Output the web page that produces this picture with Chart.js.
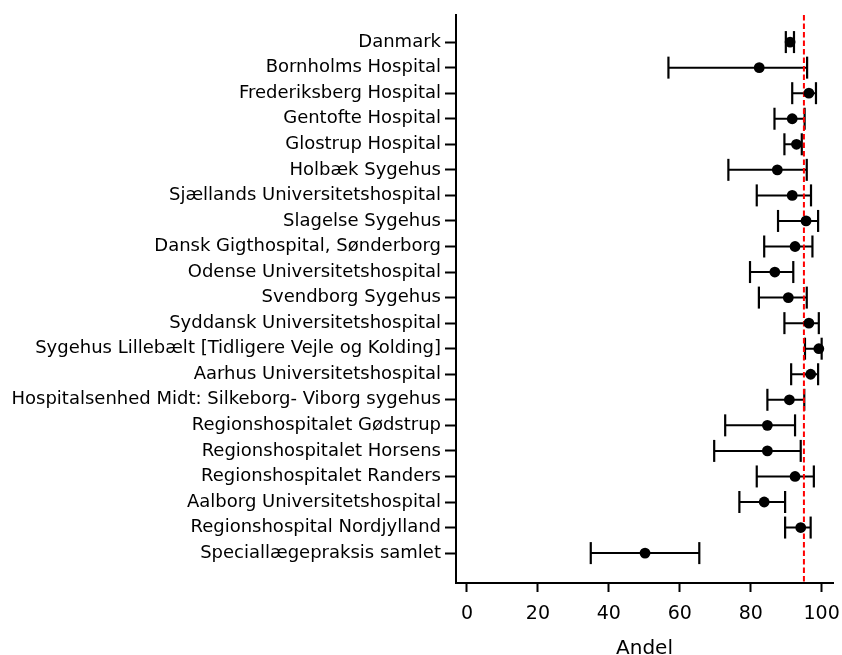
<!DOCTYPE html>
<html>
<head>
<meta charset="utf-8">
<script src="https://cdn.jsdelivr.net/npm/chart.js@4/dist/chart.umd.min.js"></script>
<style>
html,body{margin:0;padding:0;background:#ffffff;}
canvas{display:block;}
</style>
</head>
<body>
<canvas id="c" width="842" height="655"></canvas>
<script>
const categories = [
  "Danmark",
  "Bornholms Hospital",
  "Frederiksberg Hospital",
  "Gentofte Hospital",
  "Glostrup Hospital",
  "Holbæk Sygehus",
  "Sjællands Universitetshospital",
  "Slagelse Sygehus",
  "Dansk Gigthospital, Sønderborg",
  "Odense Universitetshospital",
  "Svendborg Sygehus",
  "Syddansk Universitetshospital",
  "Sygehus Lillebælt [Tidligere Vejle og Kolding]",
  "Aarhus Universitetshospital",
  "Hospitalsenhed Midt: Silkeborg- Viborg sygehus",
  "Regionshospitalet Gødstrup",
  "Regionshospitalet Horsens",
  "Regionshospitalet Randers",
  "Aalborg Universitetshospital",
  "Regionshospital Nordjylland",
  "Speciallægepraksis samlet"
];
const estimates = [91.1, 82.4, 96.4, 91.7, 92.9, 87.5, 91.7, 95.6, 92.5, 86.8, 90.6, 96.4, 99.2, 96.9, 90.9, 84.7, 84.7, 92.5, 83.8, 94.1, 50.2];
const lowerCI   = [89.9, 56.8, 91.7, 86.7, 89.5, 73.7, 81.7, 87.7, 83.8, 79.8, 82.3, 89.5, 95.3, 91.4, 84.7, 72.8, 69.7, 81.7, 76.8, 89.7, 34.9];
const upperCI   = [92.2, 95.9, 98.4, 95.2, 94.4, 95.8, 97.0, 99.0, 97.4, 92.0, 95.8, 99.2, 100.0, 99.0, 95.1, 92.5, 94.1, 97.8, 89.7, 96.9, 65.5];
const referenceValue = 95;
const xTicks = [0, 20, 40, 60, 80, 100];
const xLimits = [-3.1, 103.2];
const yLimits = [-1.06, 21.17];
const xTitle = "Andel";

const FONT = "'DejaVu Sans', sans-serif";

const segData = [];
const capData = [];
const dotData = [];
categories.forEach((c, i) => {
  segData.push({x: lowerCI[i], y: i});
  segData.push({x: upperCI[i], y: i});
  segData.push({x: null, y: null});
  capData.push({x: lowerCI[i], y: i});
  capData.push({x: upperCI[i], y: i});
  dotData.push({x: estimates[i], y: i});
});

new Chart(document.getElementById('c'), {
  type: 'scatter',
  data: {
    datasets: [
      { label: 'dots', data: dotData, pointRadius: 5.4, pointBackgroundColor: '#000', pointBorderWidth: 0, showLine: false },
      { label: 'ref', data: [{x: referenceValue, y: yLimits[0]}, {x: referenceValue, y: yLimits[1]}],
        showLine: true, borderColor: '#ff0000', borderWidth: 2, borderDash: [5.5, 3], pointRadius: 0 },
      { label: 'caps', data: capData, pointStyle: 'line', rotation: 90, pointRadius: 11,
        pointBorderColor: '#000', pointBorderWidth: 2.2, showLine: false },
      { label: 'seg', data: segData, showLine: true, spanGaps: false, borderColor: '#000',
        borderWidth: 2, pointRadius: 0 }
    ]
  },
  options: {
    responsive: false,
    animation: false,
    events: [],
    layout: { autoPadding: false, padding: { left: 0, right: 9, top: 15, bottom: 0 } },
    plugins: { legend: { display: false }, tooltip: { enabled: false } },
    scales: {
      x: {
        type: 'linear',
        min: xLimits[0], max: xLimits[1],
        afterBuildTicks: (axis) => { axis.ticks = xTicks.map(v => ({value: v})); },
        afterFit: (scale) => { scale.height = 72; scale.paddingLeft = 0; scale.paddingRight = 0; },
        grid: { display: true, drawOnChartArea: false, drawTicks: true, tickLength: 9, tickWidth: 2, tickColor: '#000' },
        border: { display: true, color: '#000', width: 2 },
        ticks: { color: '#000', font: { family: FONT, size: 19 }, padding: 11, maxRotation: 0, autoSkip: false },
        title: { display: true, text: xTitle, color: '#000', font: { family: FONT, size: 20 }, padding: { top: 0, bottom: -5.5 } }
      },
      y: {
        type: 'linear',
        reverse: true,
        min: yLimits[0], max: yLimits[1],
        afterBuildTicks: (axis) => { axis.ticks = categories.map((c, i) => ({value: i})); },
        afterFit: (scale) => { scale.width = 456; scale.paddingTop = 0; scale.paddingBottom = 0; },
        grid: { display: true, drawOnChartArea: false, drawTicks: true, tickLength: 11, tickWidth: 2, tickColor: '#000' },
        border: { display: true, color: '#000', width: 2 },
        ticks: { color: '#000', font: { family: FONT, size: 18 }, padding: 4, autoSkip: false,
          callback: (v) => categories[v] }
      }
    }
  }
});
</script>
</body>
</html>
